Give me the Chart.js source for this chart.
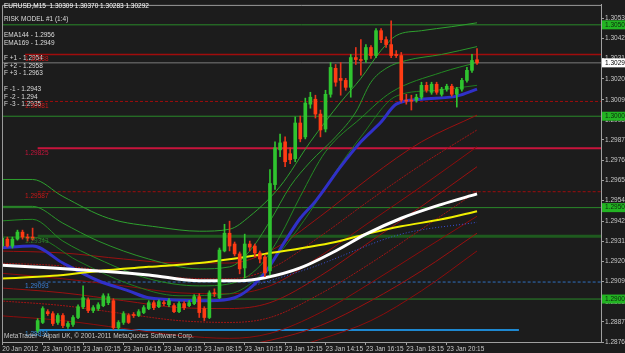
<!DOCTYPE html>
<html>
<head>
<meta charset="utf-8">
<script src="https://cdn.jsdelivr.net/npm/chart.js@4.4.1/dist/chart.umd.min.js"></script>
<style>
  html, body { margin: 0; padding: 0; background: #1c1c1c; overflow: hidden; }
  canvas { display: block; }
</style>
</head>
<body>
<canvas id="chart" width="625" height="353"></canvas>
<script>
// EURUSD M15 candles, bar 0 = 23 Jan 00:15 (first bar shown is -8, Friday 20 Jan)
const firstBar = -8;
const opens = [
  1.29290, 1.29328, 1.29290, 1.29328, 1.29366, 1.29339, 1.29339, 1.28828,
  1.28872, 1.28931, 1.28920, 1.28872, 1.28910, 1.28850, 1.28861, 1.28899, 1.28958, 1.28996,
  1.28937, 1.28948, 1.28964, 1.28980, 1.28991, 1.28844, 1.28872, 1.28910, 1.28915, 1.28910,
  1.28926, 1.28948, 1.28980, 1.28958, 1.28980, 1.28969, 1.28964, 1.28931, 1.28975, 1.28964,
  1.28975, 1.29013, 1.28948, 1.28899, 1.29034, 1.29007, 1.29263, 1.29360, 1.29301, 1.29247,
  1.29170, 1.29301, 1.29290, 1.29252, 1.29230, 1.29154, 1.29626, 1.29816, 1.29860, 1.29795,
  1.29768, 1.29963, 1.29887, 1.30066, 1.30093, 1.30012, 1.29930, 1.30120, 1.30262, 1.30207,
  1.30196, 1.30158, 1.30321, 1.30310, 1.30310, 1.30376, 1.30332, 1.30468, 1.30419, 1.30392,
  1.30338, 1.30332, 1.30088, 1.30088, 1.30088, 1.30104, 1.30169, 1.30131, 1.30175, 1.30120,
  1.30148, 1.30164, 1.30120, 1.30148, 1.30196, 1.30251, 1.30309
];
const highs = [
  1.29355, 1.29339, 1.29339, 1.29377, 1.29377, 1.29355, 1.29388, 1.28893,
  1.28958, 1.28942, 1.28931, 1.28920, 1.28920, 1.28877, 1.28910, 1.28969, 1.29072, 1.29007,
  1.28964, 1.28980, 1.29029, 1.29029, 1.29002, 1.28882, 1.28931, 1.28920, 1.28926, 1.28942,
  1.28964, 1.28991, 1.28991, 1.28996, 1.28991, 1.29002, 1.28975, 1.28986, 1.28986, 1.28991,
  1.29024, 1.29029, 1.28958, 1.29045, 1.29056, 1.29279, 1.29409, 1.29426, 1.29312, 1.29258,
  1.29355, 1.29317, 1.29301, 1.29263, 1.29241, 1.29708, 1.29860, 1.29903, 1.29887, 1.29827,
  1.29996, 1.30001, 1.30099, 1.30131, 1.30115, 1.30034, 1.30142, 1.30294, 1.30283, 1.30294,
  1.30207, 1.30338, 1.30376, 1.30419, 1.30392, 1.30387, 1.30479, 1.30479, 1.30435, 1.30522,
  1.30359, 1.30349, 1.30120, 1.30115, 1.30120, 1.30186, 1.30186, 1.30186, 1.30186, 1.30158,
  1.30175, 1.30175, 1.30158, 1.30207, 1.30267, 1.30338, 1.30370
];
const lows = [
  1.29279, 1.29284, 1.29279, 1.29322, 1.29328, 1.29317, 1.29322, 1.28817,
  1.28866, 1.28910, 1.28855, 1.28861, 1.28844, 1.28839, 1.28850, 1.28893, 1.28948, 1.28926,
  1.28926, 1.28937, 1.28958, 1.28969, 1.28834, 1.28834, 1.28861, 1.28866, 1.28899, 1.28904,
  1.28920, 1.28942, 1.28942, 1.28953, 1.28964, 1.28958, 1.28926, 1.28926, 1.28942, 1.28958,
  1.28969, 1.28899, 1.28882, 1.28893, 1.29013, 1.29002, 1.29258, 1.29263, 1.29236, 1.29138,
  1.29116, 1.29263, 1.29230, 1.29197, 1.29122, 1.29132, 1.29599, 1.29779, 1.29724, 1.29740,
  1.29751, 1.29860, 1.29876, 1.30044, 1.29990, 1.29887, 1.29914, 1.30104, 1.30164, 1.30115,
  1.30142, 1.30104, 1.30283, 1.30224, 1.30294, 1.30316, 1.30321, 1.30403, 1.30376, 1.30321,
  1.30321, 1.30077, 1.30066, 1.30034, 1.30077, 1.30093, 1.30131, 1.30120, 1.30120, 1.30110,
  1.30137, 1.30110, 1.30050, 1.30137, 1.30186, 1.30240, 1.30283
];
const closes = [
  1.29333, 1.29290, 1.29328, 1.29366, 1.29339, 1.29333, 1.29328, 1.28882,
  1.28948, 1.28920, 1.28866, 1.28910, 1.28855, 1.28866, 1.28899, 1.28958, 1.29007, 1.28937,
  1.28953, 1.28969, 1.29018, 1.29013, 1.28844, 1.28872, 1.28920, 1.28872, 1.28910, 1.28931,
  1.28953, 1.28980, 1.28953, 1.28986, 1.28975, 1.28991, 1.28931, 1.28975, 1.28953, 1.28980,
  1.29013, 1.28926, 1.28899, 1.29034, 1.29029, 1.29268, 1.29360, 1.29290, 1.29247, 1.29165,
  1.29301, 1.29284, 1.29252, 1.29219, 1.29143, 1.29632, 1.29827, 1.29854, 1.29751, 1.29762,
  1.29963, 1.29876, 1.30072, 1.30104, 1.30012, 1.29925, 1.30120, 1.30267, 1.30186, 1.30196,
  1.30158, 1.30321, 1.30310, 1.30305, 1.30376, 1.30332, 1.30468, 1.30419, 1.30392, 1.30332,
  1.30332, 1.30088, 1.30082, 1.30082, 1.30104, 1.30169, 1.30142, 1.30175, 1.30131, 1.30148,
  1.30164, 1.30120, 1.30148, 1.30196, 1.30251, 1.30305, 1.30292
];

// moving averages (sampled at bar indexes)
const ema144Bars = [-9, 2, 11, 21, 31, 39, 44, 51, 58, 64, 71, 79, 86];
const ema144 = [1.29186, 1.29170, 1.29154, 1.29132, 1.29100, 1.29100, 1.29116, 1.29170, 1.29263, 1.29355, 1.29442, 1.29518, 1.29575];
const ema169Bars = [-9, 2, 11, 21, 31, 44, 58, 64, 71, 79, 86];
const ema169 = [1.29111, 1.29127, 1.29154, 1.29176, 1.29197, 1.29247, 1.29312, 1.29355, 1.29398, 1.29436, 1.29480];
const fastBars = [-9, -2, 4, 11, 17, 21, 33, 38, 44, 48, 51, 54, 59, 63, 67, 70, 75, 82, 86];
const fastMa = [1.29279, 1.29290, 1.29197, 1.29100, 1.29045, 1.29007, 1.28991, 1.29007, 1.29143, 1.29317, 1.29442, 1.29534, 1.29724, 1.29860, 1.29968, 1.30066, 1.30093, 1.30110, 1.30148];
const dotBars = [41, 53, 71, 86];
const dotMa = [1.29067, 1.29170, 1.29355, 1.29420];

// green bands
const g1Bars = [-9, -2, 4, 13, 23, 31, 37, 41, 47, 53, 59, 63, 67, 70, 75, 81, 86];
const g1 = [1.29654, 1.29654, 1.29561, 1.29442, 1.29393, 1.29371, 1.29382, 1.29453, 1.29616, 1.29860, 1.30077, 1.30207, 1.30360, 1.30441, 1.30468, 1.30490, 1.30511];
const g2Bars = [-9, -2, 4, 11, 21, 31, 37, 41, 45, 49, 53, 58, 62, 65, 68, 72, 79, 86];
const g2 = [1.29507, 1.29507, 1.29415, 1.29317, 1.29219, 1.29165, 1.29176, 1.29263, 1.29426, 1.29616, 1.29751, 1.29887, 1.30023, 1.30186, 1.30262, 1.30305, 1.30338, 1.30381];
const g3Bars = [-9, -2, 4, 11, 21, 31, 37, 43, 47, 51, 56, 63, 69, 79, 86];
const g3 = [1.29426, 1.29436, 1.29317, 1.29219, 1.29111, 1.29072, 1.29083, 1.29181, 1.29344, 1.29561, 1.29806, 1.29990, 1.30131, 1.30240, 1.30294];
const g4Bars = [-9, -2, 7, 17, 27, 37, 43, 48, 53, 58, 63, 70, 78, 86];
const g4 = [1.29339, 1.29339, 1.29208, 1.29083, 1.29018, 1.29029, 1.29127, 1.29290, 1.29480, 1.29697, 1.29887, 1.30110, 1.30142, 1.30169];

// red bands
const redBars = [-9, 4, 16, 27, 37, 45, 55, 65, 75, 86];
const r1 = [1.29263, 1.29252, 1.29219, 1.29197, 1.29197, 1.29263, 1.29453, 1.29670, 1.29860, 1.30006];
const r2 = [1.29197, 1.29181, 1.29143, 1.29116, 1.29111, 1.29165, 1.29344, 1.29545, 1.29735, 1.29925];
const r3 = [1.29143, 1.29111, 1.29072, 1.29034, 1.29029, 1.29072, 1.29236, 1.29426, 1.29616, 1.29833];
const r4 = [1.29062, 1.29034, 1.28991, 1.28953, 1.28948, 1.28980, 1.29127, 1.29317, 1.29507, 1.29724];
const r5 = [1.28991, 1.28964, 1.28920, 1.28882, 1.28872, 1.28899, 1.29029, 1.29197, 1.29382, 1.29589];
const r6 = [1.28910, 1.28882, 1.28839, 1.28801, 1.28785, 1.28812, 1.28926, 1.29089, 1.29263, 1.29453];
const r7Bars = [27, 37, 45, 55, 65, 75, 86];
const r7 = [1.28730, 1.28740, 1.28774, 1.28855, 1.28991, 1.29154, 1.29360];
const r8Bars = [45, 55, 65, 75, 86];
const r8 = [1.28700, 1.28780, 1.28882, 1.29045, 1.29263];

// horizontal levels
const roundLevels = [1.30500, 1.30000, 1.29500, 1.29000];
const lastPrice = 1.30292;
const markPrices = [1.30338, 1.30081, 1.29825, 1.29587, 1.29343, 1.29093, 1.28831];
const markTexts = ['1.30338', '1.30081', '1.29825', '1.29587', '1.29343', '1.29093', '1.28831'];

// axes
const yTicks = [1.30535, 1.30425, 1.30315, 1.30205, 1.30090, 1.29980, 1.29870, 1.29760, 1.29650,
  1.29540, 1.29425, 1.29315, 1.29205, 1.29095, 1.28985, 1.28875, 1.28765];
const xTickBars = [-8, 0, 8, 16, 24, 32, 40, 48, 56, 64, 72, 80];
const xTickLabels = ['20 Jan 2012', '23 Jan 00:15', '23 Jan 02:15', '23 Jan 04:15', '23 Jan 06:15', '23 Jan 08:15',
  '23 Jan 10:15', '23 Jan 12:15', '23 Jan 14:15', '23 Jan 16:15', '23 Jan 18:15', '23 Jan 20:15'];

const title = 'EURUSD,M15  1.30309 1.30370 1.30283 1.30292';
const infoLines = ['RISK MODEL #1 (1:4)', 'EMA144 - 1.2956', 'EMA169 - 1.2949', 'F +1 - 1.2954', 'F +2 - 1.2958',
  'F +3 - 1.2963', 'F -1 - 1.2943', 'F -2 - 1.294', 'F -3 - 1.2935'];
const footer = 'MetaTrader - Alpari UK, \u00A9 2001-2011 MetaQuotes Software Corp.';

const bullColor = '#2fc42f';
const bearColor = '#ff3c14';
const font = '"Liberation Sans", Arial, sans-serif';

const barIdx = opens.map((_, k) => firstBar + k);
const isBull = barIdx.map((_, k) => closes[k] >= opens[k]);

function curve(bx, vals, color, width, dash, order) {
  return {
    type: 'line',
    data: bx.map((b, k) => ({ x: b, y: vals[k] })),
    borderColor: color,
    borderWidth: width,
    borderDash: dash || [],
    pointRadius: 0,
    cubicInterpolationMode: 'monotone',
    order: order
  };
}
function hline(price, from, to, color, width, dash) {
  return curve([from, to], [price, price], color, width, dash, 9);
}

const datasets = [
  {
    type: 'bar',
    data: barIdx.map((b, k) => ({ x: b, y: [opens[k], closes[k]] })),
    backgroundColor: isBull.map(u => u ? bullColor : bearColor),
    barThickness: 3,
    minBarLength: 1,
    grouped: false,
    order: 0
  },
  {
    type: 'bar',
    data: barIdx.map((b, k) => ({ x: b, y: [lows[k], highs[k]] })),
    backgroundColor: isBull.map(u => u ? bullColor : '#e8321a'),
    barThickness: 1,
    grouped: false,
    order: 1
  },
  curve(ema144Bars, ema144, '#ffffff', 3, null, 2),
  curve(ema169Bars, ema169, '#f0f000', 2, null, 3),
  curve(fastBars, fastMa, '#3030c8', 3, null, 3),
  curve(dotBars, dotMa, '#3a50d8', 1, [1, 2], 4),
  curve(g1Bars, g1, '#2ea02e', 1, null, 5),
  curve(g2Bars, g2, '#2a962a', 1, null, 5),
  curve(g3Bars, g3, '#238a23', 1, null, 5),
  curve(g4Bars, g4, '#1e7a1e', 1, null, 5),
  curve(redBars, r1, '#9a1010', 1, null, 6),
  curve(redBars, r2, '#a01414', 1, [2, 1], 6),
  curve(redBars, r3, '#8c0c0c', 1, null, 6),
  curve(redBars, r4, '#9a1010', 1, null, 6),
  curve(redBars, r5, '#a01414', 1, [2, 1], 6),
  curve(redBars, r6, '#8c0c0c', 1, null, 6),
  curve(r7Bars, r7, '#9a1010', 1, null, 6),
  curve(r8Bars, r8, '#8c0c0c', 1, null, 6),
  ...roundLevels.map(p => hline(p, -12, 115, '#2a8a2a', 1)),
  hline(lastPrice, -12, 115, '#7a7a7a', 1),
  hline(markPrices[0], -3.5, 115, '#a00c0c', 1.5),
  hline(markPrices[1], -3.5, 115, '#a00c0c', 1, [3, 2]),
  hline(markPrices[2], -1, 115, '#c8143c', 2),
  hline(markPrices[3], -1, 115, '#a00c0c', 1, [3, 2]),
  hline(markPrices[4], -1, 115, '#1e5a1e', 3),
  hline(markPrices[5], -1, 115, '#2f6fc0', 1, [3, 2]),
  hline(markPrices[6], -1, 94.3, '#1e88d0', 2)
];

const markColors = ['#d01818', '#d01818', '#c8143c', '#c81818', '#2e7a2e', '#3a80d8', '#3a90d8'];
const infoY = [19, 35, 43, 58, 66, 73, 89, 97, 104];

const decor = {
  id: 'decor',
  beforeDraw(chart) {
    const ctx = chart.ctx;
    ctx.save();
    ctx.fillStyle = '#1c1c1c';
    ctx.fillRect(0, 0, chart.width, chart.height);
    ctx.restore();
  },
  afterDraw(chart) {
    const { ctx, chartArea: a, scales: { x, y } } = chart;
    ctx.save();
    ctx.strokeStyle = '#9a9a9a';
    ctx.lineWidth = 1;
    ctx.beginPath();
    ctx.moveTo(a.left + 0.5, a.bottom);
    ctx.lineTo(a.left + 0.5, a.top + 0.5);
    ctx.lineTo(a.right, a.top + 0.5);
    ctx.stroke();

    ctx.font = '6.5px ' + font;
    ctx.textBaseline = 'middle';
    ctx.textAlign = 'left';
    ctx.fillStyle = '#ffffff';
    ctx.fillText(title, 4, 6);
    ctx.fillStyle = '#dcdcdc';
    infoLines.forEach((t, k) => ctx.fillText(t, 4, infoY[k]));

    markPrices.forEach((p, k) => {
      ctx.fillStyle = markColors[k];
      ctx.fillText(markTexts[k], x.getPixelForValue(-3.5), y.getPixelForValue(p) + 4.5);
    });

    // price boxes on the right scale
    const box = (p, fill, textColor) => {
      const py = y.getPixelForValue(p);
      ctx.fillStyle = fill;
      ctx.fillRect(a.right + 1, py - 4.5, 24, 9);
      ctx.fillStyle = textColor;
      ctx.fillText(p.toFixed(5), a.right + 4, py);
    };
    roundLevels.forEach(p => box(p, '#22b422', '#0c2a0c'));
    box(lastPrice, '#ffffff', '#000000');

    ctx.fillStyle = '#c8c8c8';
    ctx.fillText(footer, 4, 336);
    ctx.restore();
  }
};

new Chart(document.getElementById('chart'), {
  type: 'bar',
  data: { datasets },
  plugins: [decor],
  options: {
    responsive: false,
    animation: false,
    devicePixelRatio: 1,
    layout: { padding: { left: 2, top: 2, right: 0, bottom: 0 } },
    plugins: { legend: { display: false }, tooltip: { enabled: false } },
    scales: {
      x: {
        type: 'linear',
        min: -8.06,
        max: 110.55,
        offset: false,
        afterFit(s) { s.height = 11; },
        afterBuildTicks(s) { s.ticks = xTickBars.map(v => ({ value: v })); },
        ticks: {
          autoSkip: false, maxRotation: 0, minRotation: 0, align: 'start', padding: 0,
          color: '#c8c8c8', font: { family: font, size: 6.5 },
          callback: (v, i) => xTickLabels[i]
        },
        grid: { drawOnChartArea: false, tickLength: 3, offset: false, color: '#a0a0a0' },
        border: { color: '#a0a0a0' }
      },
      y: {
        type: 'linear',
        position: 'right',
        min: 1.28765,
        max: 1.30609,
        afterFit(s) { s.width = 24; },
        afterBuildTicks(s) { s.ticks = yTicks.map(v => ({ value: v })); },
        ticks: {
          autoSkip: false, padding: 1,
          color: '#c8c8c8', font: { family: font, size: 6.5 },
          callback: v => v.toFixed(5)
        },
        grid: { drawOnChartArea: false, tickLength: 3, color: '#a0a0a0' },
        border: { color: '#a0a0a0' }
      }
    }
  }
});
</script>
</body>
</html>
